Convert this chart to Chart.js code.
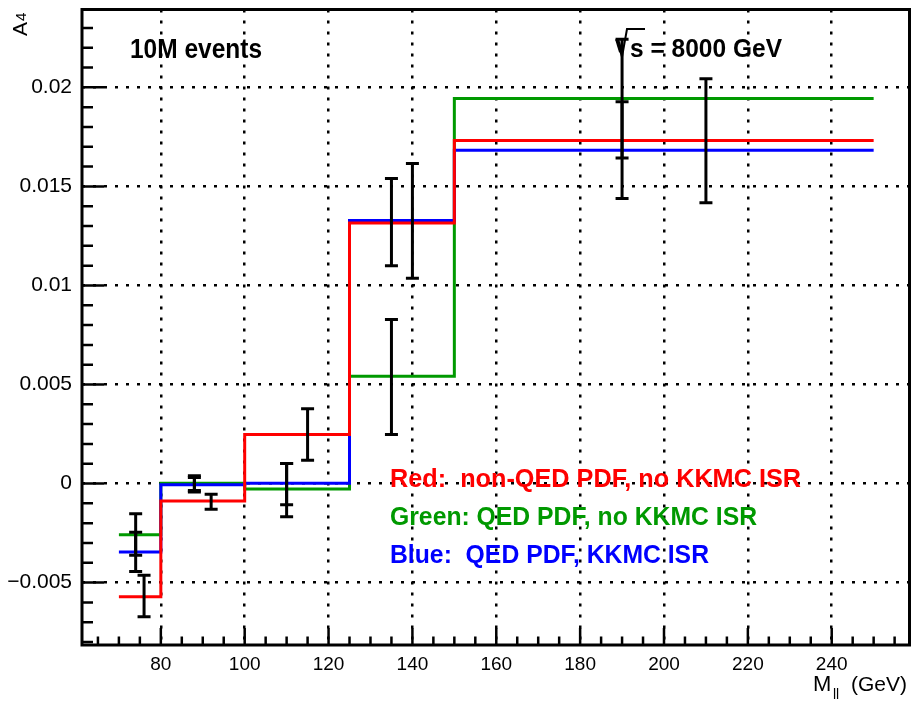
<!DOCTYPE html>
<html><head><meta charset="utf-8">
<script src="https://cdn.jsdelivr.net/npm/chart.js@4/dist/chart.umd.min.js"></script>
<style>html,body{margin:0;padding:0;background:#fff;} canvas{display:block;}</style>
</head><body>
<canvas id="c" width="911" height="708"></canvas>
<script>
// ---- data ----
const binEdges = [70, 80, 100, 125, 150, 250];
const redHist   = [-0.00571, -0.00088, 0.00247, 0.01315, 0.01732];
const greenHist = [-0.00258, 0.00002, -0.00027, 0.00542, 0.01944];
const blueHist  = [-0.00345, -0.00006, 0.00002, 0.01328, 0.01683];

const redPointX   = [76, 92, 115, 140, 210];
const redPointY   = [-0.00568, -0.00092, 0.00247, 0.01326, 0.01731];
const redPointErr = [0.00105, 0.00038, 0.00130, 0.00290, 0.00313];
const greenPointX   = [74, 88, 110, 135, 190];
const greenPointY   = [-0.00257, 0.00002, -0.00033, 0.00538, 0.01943];
const greenPointErr = [0.00105, 0.00037, 0.00134, 0.00290, 0.00300];
const bluePointX   = [74, 88, 110, 135, 190];
const bluePointY   = [-0.00345, -0.00006, -0.00003, 0.01320, 0.01683];
const bluePointErr = [0.00099, 0.00037, 0.00104, 0.00220, 0.00244];

const xTickValues = [80, 100, 120, 140, 160, 180, 200, 220, 240];
const xTickLabels = ['80', '100', '120', '140', '160', '180', '200', '220', '240'];
const yTickValues = [-0.005, 0, 0.005, 0.01, 0.015, 0.02];
const yTickLabels = ['\u22120.005', '0', '0.005', '0.01', '0.015', '0.02'];

const legendLines = ['Red:  non-QED PDF, no KKMC ISR', 'Green: QED PDF, no KKMC ISR', 'Blue:  QED PDF, KKMC ISR'];
const legendColors = ['#ff0000', '#009900', '#0000ff'];

// ---- builders ----
function histData(vals) {
  const d = vals.map((v, i) => ({x: binEdges[i], y: v}));
  d.push({x: binEdges[binEdges.length - 1], y: vals[vals.length - 1]});
  return d;
}
function errData(xs, ys, es) {
  const d = [];
  xs.forEach((x, i) => { d.push({x: x, y: ys[i] - es[i]}, {x: x, y: ys[i] + es[i]}, {x: x, y: null}); });
  return d;
}
function histDs(vals, color, order) {
  return {type: 'line', data: histData(vals), borderColor: color, borderWidth: 3, stepped: true,
          pointRadius: 0, fill: false, order: order};
}
function errDs(xs, ys, es) {
  return {type: 'line', data: errData(xs, ys, es), borderColor: '#000', borderWidth: 3, spanGaps: false,
          pointStyle: 'line', pointRadius: 6.5, pointBorderWidth: 3, pointBorderColor: '#000',
          pointBackgroundColor: '#000', fill: false, order: 0};
}

function drawTxt(ctx, s, x, y, font, color, targetW, align) {
  ctx.save();
  ctx.font = font; ctx.fillStyle = color; ctx.textBaseline = 'alphabetic'; ctx.textAlign = 'left';
  const w = ctx.measureText(s).width;
  const sx = targetW ? targetW / w : 1;
  const x0 = align === 'right' ? x - w * sx : x;
  ctx.translate(x0, y); ctx.scale(sx, 1);
  ctx.fillText(s, 0, 0);
  ctx.restore();
}

const decor = {
  id: 'decor',
  beforeDraw(chart) {
    const ctx = chart.ctx;
    ctx.save(); ctx.fillStyle = '#fff'; ctx.fillRect(0, 0, chart.width, chart.height); ctx.restore();
  },
  afterDraw(chart) {
    const ctx = chart.ctx, a = chart.chartArea, xs = chart.scales.x, ys = chart.scales.y;
    ctx.save();
    ctx.strokeStyle = '#000'; ctx.lineWidth = 2.5; ctx.lineCap = 'butt';
    // inward ticks
    ctx.beginPath();
    for (let v = 65; v <= 255; v += 5) {
      const px = xs.getPixelForValue(v);
      const len = (v % 20 === 0) ? 17 : 8.5;
      ctx.moveTo(px, a.bottom); ctx.lineTo(px, a.bottom - len);
    }
    for (let k = -8; k <= 23; k++) {
      const py = ys.getPixelForValue(k * 0.001);
      const len = (k % 5 === 0) ? 22 : 11;
      ctx.moveTo(a.left, py); ctx.lineTo(a.left + len, py);
    }
    ctx.stroke();
    // frame
    ctx.lineWidth = 3;
    ctx.strokeRect(a.left, a.top, a.right - a.left, a.bottom - a.top);
    ctx.restore();

    // texts
    drawTxt(ctx, '10M events', 130, 58, 'bold 28px "Liberation Sans"', '#000', 132);
    // sqrt s
    ctx.save();
    ctx.strokeStyle = '#000'; ctx.lineWidth = 2;
    ctx.beginPath(); ctx.moveTo(617, 40); ctx.lineTo(622, 57); ctx.lineTo(627, 29); ctx.lineTo(645, 29); ctx.stroke();
    ctx.lineWidth = 4; ctx.beginPath(); ctx.moveTo(617, 39); ctx.lineTo(621, 52); ctx.stroke();
    ctx.restore();
    drawTxt(ctx, 's = 8000 GeV', 630, 57, 'bold 25px "Liberation Sans"', '#000', 152);

    const lw = [411, 367, 319];
    legendLines.forEach((s, i) => {
      drawTxt(ctx, s, 390, 487 + i * 38, 'bold 26px "Liberation Sans"', legendColors[i], lw[i]);
    });

    // y title A_4
    ctx.save();
    ctx.fillStyle = '#000'; ctx.textBaseline = 'alphabetic'; ctx.textAlign = 'left';
    ctx.translate(27, 36); ctx.rotate(-Math.PI / 2);
    ctx.font = '21px "Liberation Sans"'; ctx.fillText('A', 0, 0);
    ctx.font = '15px "Liberation Sans"'; ctx.fillText('4', 15, -1);
    ctx.restore();

    // x title M_ll (GeV)
    drawTxt(ctx, 'M', 813, 691, '22px "Liberation Sans"', '#000');
    drawTxt(ctx, 'll', 833, 699, '14px "Liberation Sans"', '#000');
    drawTxt(ctx, '(GeV)', 907, 691, '21px "Liberation Sans"', '#000', null, 'right');
  }
};

new Chart(document.getElementById('c'), {
  type: 'line',
  data: {
    datasets: [
      errDs(redPointX, redPointY, redPointErr),
      errDs(greenPointX, greenPointY, greenPointErr),
      errDs(bluePointX, bluePointY, bluePointErr),
      histDs(redHist, '#ff0000', 1),
      histDs(blueHist, '#0000ff', 2),
      histDs(greenHist, '#009900', 3)
    ]
  },
  options: {
    responsive: false,
    animation: false,
    events: [],
    layout: {autoPadding: false, padding: {top: 9.5, right: 1.5, left: 0, bottom: 0}},
    plugins: {legend: {display: false}, tooltip: {enabled: false}},
    scales: {
      x: {
        type: 'linear', min: 61.2, max: 258.55,
        afterBuildTicks: s => { s.ticks = xTickValues.map(v => ({value: v})); },
        afterFit: s => { s.height = 63; s.paddingLeft = 0; s.paddingRight = 0; },
        ticks: {autoSkip: false, maxRotation: 0, padding: 8, color: '#000',
                font: {family: 'Liberation Sans', size: 19},
                callback: (v, i) => xTickLabels[i]},
        grid: {color: '#000', lineWidth: 2.5, drawTicks: false},
        border: {display: false, dash: [3, 8]}
      },
      y: {
        type: 'linear', min: -0.00815, max: 0.02393,
        afterBuildTicks: s => { s.ticks = yTickValues.map(v => ({value: v})); },
        afterFit: s => { s.width = 82; s.paddingTop = 0; s.paddingBottom = 0; },
        ticks: {autoSkip: false, padding: 10, color: '#000',
                font: {family: 'Liberation Sans', size: 21},
                callback: (v, i) => yTickLabels[i]},
        grid: {color: '#000', lineWidth: 2.5, drawTicks: false},
        border: {display: false, dash: [3, 8]}
      }
    }
  },
  plugins: [decor]
});
</script>
</body></html>
